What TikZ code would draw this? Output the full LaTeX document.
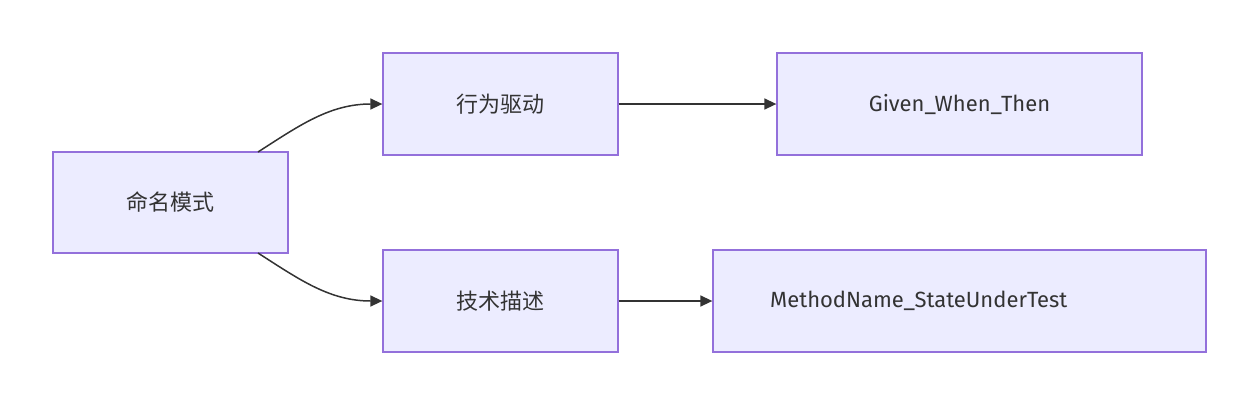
\documentclass[tikz,border=0pt]{standalone}
\usepackage{fontspec}
\setmainfont{Fira Sans}
\newfontfamily\cjk{Noto Sans CJK SC}
\usetikzlibrary{arrows.meta}
\definecolor{boxfill}{HTML}{ECECFF}
\definecolor{boxline}{HTML}{9370DB}
\definecolor{edge}{HTML}{333333}
\begin{document}
\begin{tikzpicture}[x=1pt,y=-1pt,
  box/.style={draw=boxline,fill=boxfill,line width=1.3pt,inner sep=0pt},
  lbl/.style={font=\fontsize{22}{26}\selectfont,text=edge},
  conn/.style={draw=edge,line width=1.5pt,-{Triangle[length=12pt,width=11pt]}}]
\useasboundingbox (0,0) rectangle (1259,405);
\node[box,minimum width=235pt,minimum height=101pt] (a) at (170.5,202.5) {};
\node[lbl] at (a) {\cjk 命名模式};
\node[box,minimum width=235pt,minimum height=102pt] (b) at (500.5,104) {};
\node[lbl] at (b) {\cjk 行为驱动};
\node[box,minimum width=365pt,minimum height=102pt] (c) at (959.5,104) {};
\node[lbl] at (c) {Given\_When\_Then};
\node[box,minimum width=235pt,minimum height=102pt] (d) at (500.5,301) {};
\node[lbl] at (d) {\cjk 技术描述};
\node[box,minimum width=493pt,minimum height=102pt] (e) at (959.5,301) {};
\begin{scope}
\clip (713,250) rectangle (1180,352);
\node[lbl,anchor=west,inner sep=0pt] at (770,301) {MethodName\_StateUnderTest};
\end{scope}
\coordinate (a1) at (258,152);
\coordinate (a2) at (258,253);
\draw[conn] (a1) .. controls (300,125) and (330,104) .. (b.west);
\draw[conn] (a2) .. controls (300,280) and (330,301) .. (d.west);
\draw[conn] (b.east) -- (c.west);
\draw[conn] (d.east) -- (e.west);
\end{tikzpicture}
\end{document}
